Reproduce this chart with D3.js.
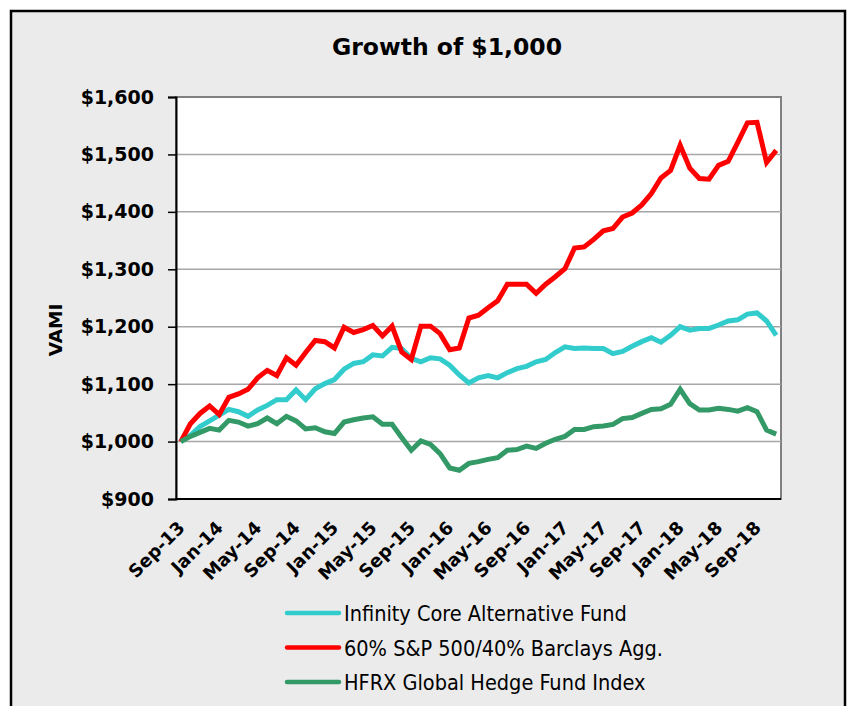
<!DOCTYPE html>
<html>
<head>
<meta charset="utf-8">
<script src="https://cdn.jsdelivr.net/npm/d3@7"></script>
<style>
  body { margin: 0; background: #ffffff; }
  svg { display: block; }
</style>
</head>
<body>
<div class="chart"></div>
<script>
// month-end values, Sep-13 .. Nov-18
const startMonth = new Date(2013, 8, 1)
const endMonth = new Date(2018, 10, 1)

const infinity = [
  1000, 1011, 1026, 1036, 1046, 1056, 1052, 1044, 1055, 1063,
  1073, 1073, 1090, 1073, 1092, 1101, 1108, 1126, 1136, 1139,
  1151, 1149, 1164, 1162, 1145, 1139, 1146, 1144, 1133, 1116,
  1102, 1111, 1115, 1111, 1120, 1127, 1131, 1139, 1143, 1155,
  1165, 1162, 1163, 1162, 1162, 1153, 1157, 1166, 1174, 1181,
  1173, 1185, 1200, 1194, 1197, 1197, 1203, 1210, 1212, 1222,
  1224, 1210, 1185
]
const blend6040 = [
  1000, 1031, 1049, 1062, 1047, 1077, 1083, 1091, 1111, 1124,
  1115, 1146, 1133, 1155, 1176, 1174, 1163, 1199, 1190, 1195,
  1202, 1184, 1201, 1156, 1143, 1201, 1201, 1188, 1160, 1163,
  1215, 1220, 1233, 1245, 1274, 1274, 1274, 1258, 1274, 1287,
  1301, 1337, 1339, 1352, 1367, 1371, 1391, 1398, 1412, 1432,
  1459, 1472, 1516, 1476, 1458, 1457, 1481, 1488, 1521, 1555,
  1556, 1486, 1507
]
const hfrx = [
  1000, 1009, 1016, 1023, 1020, 1037, 1034, 1027, 1031, 1041,
  1031, 1044, 1036, 1022, 1024, 1017, 1014, 1034, 1038, 1041,
  1043, 1030, 1030, 1007, 985, 1001, 995, 979, 954, 950,
  962, 965, 969, 972, 985, 986, 992, 988, 997, 1004,
  1009, 1021, 1021, 1026, 1027, 1030, 1040, 1042, 1049, 1056,
  1057, 1065, 1091, 1066, 1055, 1055, 1058, 1056, 1053, 1059,
  1052, 1020, 1013
]

const seriesNames = ['Infinity Core Alternative Fund', '60% S&P 500/40% Barclays Agg.', 'HFRX Global Hedge Fund Index']
const seriesColors = ['#33CCCC', '#FF0000', '#339966']
const yTicks = [900, 1000, 1100, 1200, 1300, 1400, 1500, 1600]
const xTickLabels = ['Sep-13', 'Jan-14', 'May-14', 'Sep-14', 'Jan-15', 'May-15', 'Sep-15', 'Jan-16',
  'May-16', 'Sep-16', 'Jan-17', 'May-17', 'Sep-17', 'Jan-18', 'May-18', 'Sep-18']

const months = d3.timeMonths(startMonth, d3.timeMonth.offset(endMonth, 1))
const fmtMonth = d3.timeFormat('%b-%y')
const series = [infinity, blend6040, hfrx]

const W = 849, H = 706
const plot = { left: 176, top: 97, right: 781, bottom: 499 }
const boldFont = 'DejaVu Sans, Verdana, sans-serif'

const svg = d3.select('div.chart')
  .append('svg')
  .attr('width', W)
  .attr('height', H)

// outer frame
svg.append('rect')
  .attr('x', 11).attr('y', 11)
  .attr('width', 834).attr('height', 730)
  .attr('fill', '#ebebeb')
  .attr('stroke', '#000')
  .attr('stroke-width', 2.5)

svg.append('text')
  .attr('x', 447).attr('y', 55)
  .attr('text-anchor', 'middle')
  .style('font-family', boldFont)
  .style('font-weight', 'bold')
  .style('font-size', '23.5px')
  .text('Growth of $1,000')

var x = d3.scalePoint()
  .domain(months.map(fmtMonth))
  .range([plot.left, plot.right])
  .padding(0.5)

var y = d3.scaleLinear()
  .domain([900, 1600])
  .range([plot.bottom, plot.top])

// plot area
svg.append('rect')
  .attr('x', plot.left).attr('y', plot.top)
  .attr('width', plot.right - plot.left)
  .attr('height', plot.bottom - plot.top)
  .attr('fill', '#fff')
  .attr('stroke', '#808080')
  .attr('stroke-width', 2)

// gridlines
svg.append('g')
  .selectAll('line')
  .data(yTicks.slice(1, -1))
  .enter()
  .append('line')
  .attr('x1', plot.left).attr('x2', plot.right)
  .attr('y1', d => y(d)).attr('y2', d => y(d))
  .attr('stroke', '#a6a6a6')
  .attr('stroke-width', 1.5)

// y axis
var y_axis = d3.axisLeft(y)
  .tickValues(yTicks)
  .tickSize(8)
  .tickPadding(14)
  .tickFormat(d3.format('$,'))

var gy = svg.append('g')
  .attr('transform', 'translate(' + plot.left + ',0)')
  .call(y_axis)
gy.select('.domain').attr('stroke', '#000').attr('stroke-width', 2)
gy.selectAll('.tick line').attr('stroke', '#000').attr('stroke-width', 1.5)
gy.selectAll('.tick text')
  .style('font-family', boldFont)
  .style('font-weight', 'bold')
  .style('font-size', '19px')
  .attr('fill', '#000')

// bottom axis line
svg.append('line')
  .attr('x1', plot.left).attr('x2', plot.right)
  .attr('y1', plot.bottom).attr('y2', plot.bottom)
  .attr('stroke', '#000')
  .attr('stroke-width', 2)

// x labels (every 4th month)
svg.append('g')
  .selectAll('text')
  .data(xTickLabels)
  .enter()
  .append('text')
  .attr('transform', d => 'translate(' + (x(d) + 5) + ',529) rotate(-45)')
  .attr('text-anchor', 'end')
  .style('font-family', boldFont)
  .style('font-weight', 'bold')
  .style('font-size', '18px')
  .text(d => d)

svg.append('text')
  .attr('transform', 'translate(62,330) rotate(-90)')
  .attr('text-anchor', 'middle')
  .style('font-family', boldFont)
  .style('font-weight', 'bold')
  .style('font-size', '18.5px')
  .text('VAMI')

// lines
var line = d3.line()
  .x((d, i) => x(fmtMonth(months[i])))
  .y(d => y(d))

svg.append('g')
  .selectAll('path')
  .data(series)
  .enter()
  .append('path')
  .attr('d', d => line(d))
  .attr('fill', 'none')
  .attr('stroke', (d, i) => seriesColors[i])
  .attr('stroke-width', 5)
  .attr('stroke-linejoin', 'miter')

// legend
var legend = svg.append('g')
  .selectAll('g')
  .data(seriesNames)
  .enter()
  .append('g')
  .attr('transform', (d, i) => 'translate(287,' + (613 + i * 34.5) + ')')

legend.append('line')
  .attr('x1', 0).attr('x2', 52)
  .attr('stroke', (d, i) => seriesColors[i])
  .attr('stroke-width', 4.5)
  .attr('stroke-linecap', 'round')

legend.append('text')
  .attr('x', 57).attr('y', 8)
  .style('font-family', 'DejaVu Sans, sans-serif')
  .style('font-stretch', 'condensed')
  .style('font-size', '21.5px')
  .text(d => d)
</script>
</body>
</html>
